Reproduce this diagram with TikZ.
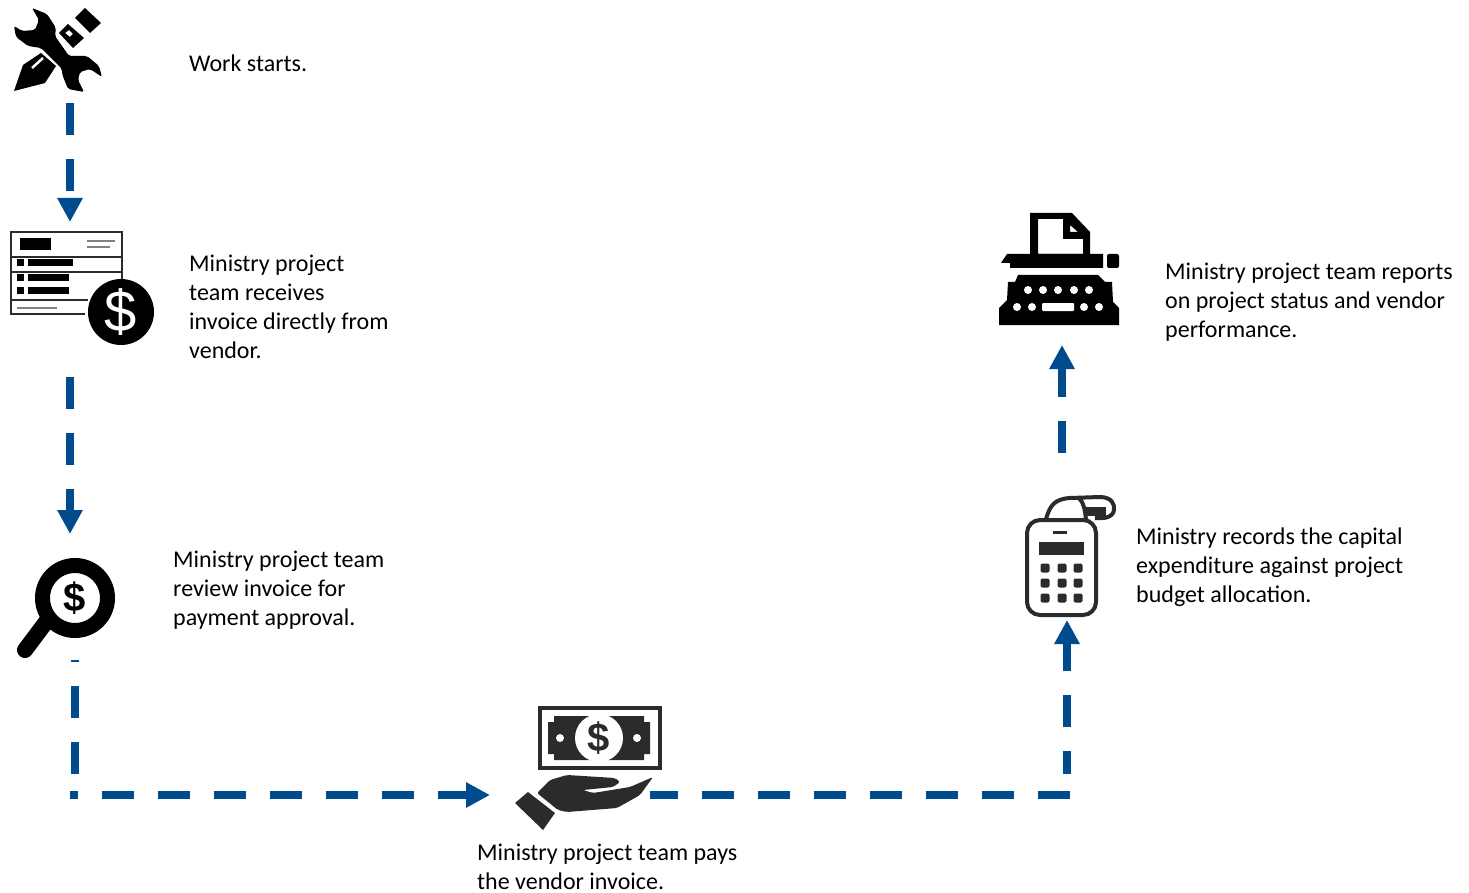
\documentclass[tikz,border=0pt]{standalone}
\usepackage{fontspec}
\setmainfont{Carlito}
\newfontfamily\signfont{Liberation Sans}
\usetikzlibrary{arrows.meta}
\definecolor{flowblue}{HTML}{004B8D}
\definecolor{icongray}{HTML}{2B2B2B}
\tikzset{
  flowline/.style={draw=flowblue, line width=8pt, dash pattern=on 32pt off 24pt},
  flowarrow/.style={flowline, -{Triangle[width=24pt,length=24pt]}},
  iconbox/.style={inner sep=0pt, outer sep=0pt},
  steplabel/.style={anchor=north west, align=left, inner sep=0pt, text=black, font=\fontsize{24}{29}\selectfont}
}
\begin{document}
\begin{tikzpicture}[x=1pt, y=-1pt]
  \useasboundingbox (0, 0) rectangle (1469, 893);

  \node [iconbox, minimum width=112pt, minimum height=95pt] (wrench) at (70, 55.5) {};
  \node [iconbox, minimum width=120pt, minimum height=155pt] (invoice) at (70, 299.5) {};
  \node [iconbox, minimum width=120pt, minimum height=126pt] (lens) at (75, 597) {};
  \node [iconbox, minimum width=160pt, minimum height=190pt] (money) at (570, 795) {};
  \node [iconbox, minimum width=96pt, minimum height=167pt] (calculator) at (1067, 536.5) {};
  \node [iconbox, minimum width=126pt, minimum height=140pt] (typewriter) at (1062, 275) {};
  \coordinate (cornerleft) at (70, 795);
  \coordinate (cornerup) at (75, 795);
  \coordinate (cornerright) at (1070, 795);
  \coordinate (riserstart) at (1067, 774);

  \draw [flowarrow] (wrench.south) -- (invoice.north);
  \draw [flowarrow] (invoice.south) -- ([xshift=-5pt]lens.north);
  \draw [flowline, dash phase=30pt] (lens.south) -- (cornerup);
  \draw [flowarrow, dash phase=24pt] (cornerleft) -- (money.west);
  \draw [flowline, dash phase=4pt] (money.east) -- (cornerright);
  \draw [flowarrow, dash phase=9pt] (riserstart) -- (calculator.south);
  \draw [flowarrow] ([xshift=-5pt]calculator.north) -- (typewriter.south);

  % wrench and pen
  \fill [rounded corners=2pt] (32, 8) -- (47, 14) -- (56, 28) -- (55, 36) -- (69, 56) -- (87, 56)
    -- (99, 66) -- (102, 77) -- (90, 69) -- (80, 72) -- (78, 80) -- (84, 92) -- (68, 89) -- (62, 74)
    -- (62, 69) -- (41, 48) -- (28, 46) -- (16, 37) -- (14, 26) -- (22, 31) -- (35, 30) -- (39, 20) -- cycle;
  \fill (14, 91) -- (23, 65) -- (41, 53) -- (56, 66) -- (45, 83) -- cycle;
  \draw [white, line width=2.5pt] (32, 68) -- (43, 58);
  \fill [even odd rule] (59, 33) -- (68, 24) -- (84, 38) -- (73, 48) -- cycle
    (65, 33) -- (69, 30) -- (73, 34) -- (70, 37) -- cycle;
  \fill (75, 18) -- (85, 8) -- (101, 23) -- (90, 33) -- cycle;

  % invoice
  \draw [line width=2.5pt, icongray] (122, 280) -- (122, 232) -- (11, 232) -- (11, 314) -- (85, 314);
  \draw [line width=2.5pt, icongray] (11, 257) -- (122, 257) (11, 272) -- (122, 272) (11, 300) -- (88, 300);
  \fill (20, 238) rectangle (51, 250);
  \draw [line width=2pt, gray] (87, 241) -- (115, 241) (87, 247) -- (110, 247) (17, 308) -- (57, 308);
  \foreach \y/\w in {263/73, 278/69, 290/69} {
    \fill (17, \y-3.5) rectangle (24, \y+3.5);
    \fill (28, \y-3.5) rectangle (\w, \y+3.5);
  }
  \fill (121, 312) circle (33);
  \node [iconbox, text=white, font=\signfont\fontsize{58}{58}\selectfont] (invoicesign) at (121, 312) {\$};

  % magnifier
  \draw [line width=15pt] (75, 598) circle (32.5);
  \draw [line width=16pt, line cap=round] (46, 622) -- (25, 650);
  \node [iconbox, font=\signfont\bfseries\fontsize{40}{40}\selectfont] (lenssign) at (75, 598) {\$};

  % banknote and hand
  \draw [line width=4pt, icongray] (539.5, 708) rectangle (659.5, 768);
  \fill [icongray] (554, 716) -- (644, 716) -- (644, 722) -- (650, 722) -- (650, 754) -- (644, 754)
    -- (644, 760) -- (554, 760) -- (554, 754) -- (548, 754) -- (548, 722) -- (554, 722) -- cycle;
  \fill [white] (599, 738) circle (24);
  \fill [white] (560, 738) circle (4) (637, 738) circle (4);
  \node [iconbox, text=icongray, font=\signfont\bfseries\fontsize{40}{40}\selectfont] (moneysign) at (599, 738) {\$};
  \fill [icongray] (515, 803) -- (528, 792) -- (555, 813) -- (543, 830) -- cycle;
  \fill [icongray, rounded corners=2pt] (537, 793) -- (550, 780) -- (567, 775) -- (615, 778) -- (620, 782) -- (613, 787)
    -- (583, 790) -- (593, 793) -- (630, 787) -- (653, 777) -- (640, 795) -- (617, 808) -- (567, 812) -- (558, 810) -- cycle;

  % calculator
  \draw [line width=4pt, rounded corners=13pt, icongray] (1027, 520) rectangle (1096, 615);
  \draw [line width=3pt, icongray] (1053, 532) -- (1067, 532);
  \fill [icongray] (1039, 542) rectangle (1084, 555);
  \foreach \x in {1045, 1062, 1078} {
    \foreach \y in {568, 583, 598} {
      \fill [icongray, rounded corners=2pt] (\x-4.5, \y-4.5) rectangle (\x+4.5, \y+4.5);
    }
  }
  \draw [line width=4pt, icongray] (1046, 519) .. controls (1050, 505) and (1055, 499) .. (1070, 498)
    -- (1100, 497) .. controls (1112, 497) and (1115, 505) .. (1114, 510) .. controls (1113, 517) and (1105, 519) .. (1095, 518);
  \draw [line width=4pt, icongray] (1079, 498) .. controls (1084, 503) and (1085, 510) .. (1086, 520);
  \fill [icongray] (1086, 507) rectangle (1106, 516);

  % typewriter
  \fill [even odd rule] (1030, 213) -- (1072, 213) -- (1090, 232) -- (1090, 254) -- (1030, 254) -- cycle
    (1038, 219) -- (1063, 219) -- (1063, 239) -- (1083, 239) -- (1083, 254) -- (1038, 254) -- cycle
    (1070, 225) -- (1078, 232) -- (1070, 232) -- cycle;
  \fill (1001, 263) -- (1007, 254) -- (1103, 254) -- (1103, 268) -- (1010, 268) -- (1010, 263) -- cycle;
  \fill [rounded corners=2pt] (1107, 254) rectangle (1119, 268);
  \fill (1018, 275) -- (1098, 275) -- (1105, 282) -- (1112, 282) -- (1113, 302) -- (1119, 308) -- (1119, 325)
    -- (999, 325) -- (999, 308) -- (1007, 300) -- (1008, 282) -- (1015, 282) -- cycle;
  \foreach \x in {1028, 1043, 1058, 1074, 1089} {
    \fill [white] (\x, 290) circle (4);
  }
  \foreach \x in {1017, 1032, 1084, 1099} {
    \fill [white] (\x, 307) circle (4);
  }
  \fill [white, rounded corners=1pt] (1042, 303) rectangle (1074, 311);

  \node [steplabel] (startlabel) at (189, 54.5) {Work starts.};
  \node [steplabel] (invoicelabel) at (189, 254.5) {Ministry project\\team receives\\invoice directly from\\vendor.};
  \node [steplabel] (reviewlabel) at (173, 550.5) {Ministry project team\\review invoice for\\payment approval.};
  \node [steplabel] (paylabel) at (477, 843.5) {Ministry project team pays\\the vendor invoice.};
  \node [steplabel] (recordlabel) at (1136, 528) {Ministry records the capital\\expenditure against project\\budget allocation.};
  \node [steplabel] (reportlabel) at (1165, 262.5) {Ministry project team reports\\on project status and vendor\\performance.};
\end{tikzpicture}
\end{document}
